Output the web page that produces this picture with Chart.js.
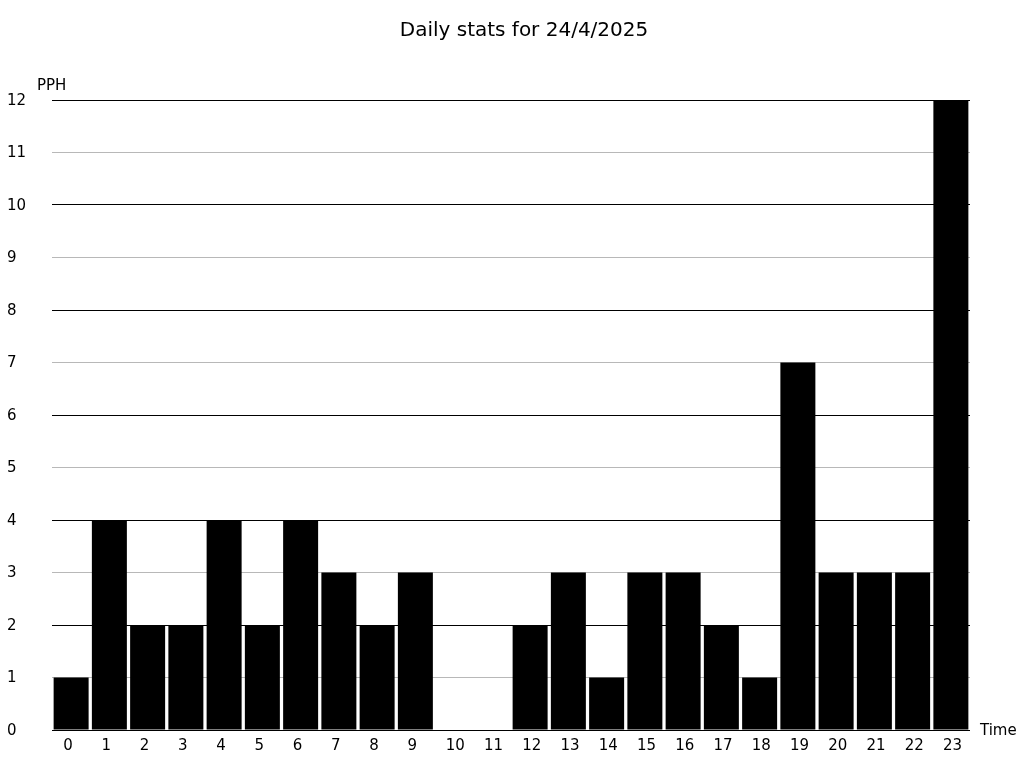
<!DOCTYPE html>
<html>
<head>
<meta charset="utf-8">
<script src="https://cdn.jsdelivr.net/npm/chart.js@4.4.1/dist/chart.umd.min.js"></script>
<style>
  html, body { margin: 0; padding: 0; background: #ffffff; }
  canvas { display: block; }
</style>
</head>
<body>
<canvas id="c" width="1024" height="768"></canvas>
<script>
const titleText = "Daily stats for 24/4/2025";
const yAxisLabel = "PPH";
const xAxisLabel = "Time";
const hours = ["0","1","2","3","4","5","6","7","8","9","10","11","12","13","14","15","16","17","18","19","20","21","22","23"];
const pphValues = [1,4,2,2,4,2,4,3,2,3,0,0,2,3,1,3,3,2,1,7,3,3,3,12];
const yMin = 0;
const yMax = 12;

const FONT = "'DejaVu Sans', sans-serif";

const labelsPlugin = {
  id: 'labels',
  afterDraw(chart) {
    const ctx = chart.ctx;
    const area = chart.chartArea;
    ctx.save();
    ctx.fillStyle = '#000';
    ctx.font = "20px " + FONT;
    ctx.textAlign = 'center';
    ctx.textBaseline = 'middle';
    ctx.fillText(titleText, 524, 31);
    ctx.font = "15px " + FONT;
    ctx.textAlign = 'left';
    ctx.fillText(yAxisLabel, 37, area.top - 14);
    ctx.fillText(xAxisLabel, area.right + 10, area.bottom + 1);
    ctx.restore();
  }
};

new Chart(document.getElementById('c'), {
  type: 'bar',
  data: {
    labels: hours,
    datasets: [{
      data: pphValues,
      backgroundColor: '#000000',
      borderWidth: 0,
      barPercentage: 0.915,
      categoryPercentage: 1.0
    }]
  },
  options: {
    responsive: false,
    animation: false,
    layout: { padding: { left: 7, right: 54, top: 100, bottom: 0 } },
    plugins: {
      legend: { display: false },
      title: { display: false },
      tooltip: { enabled: false }
    },
    scales: {
      x: {
        grid: { display: false, drawTicks: false },
        border: { display: false },
        ticks: {
          color: '#000',
          font: { family: FONT, size: 15 },
          align: 'start',
          labelOffset: -8,
          padding: 7,
          maxRotation: 0,
          autoSkip: false
        },
        afterFit(scale) { scale.height = 38; }
      },
      y: {
        min: yMin,
        max: yMax,
        grid: {
          drawTicks: false,
          lineWidth: 1,
          color: (c) => (c.tick && c.tick.value % 2 === 0) ? '#000000' : '#b8b8b8'
        },
        border: { display: false },
        ticks: {
          stepSize: 1,
          color: '#000',
          font: { family: FONT, size: 15 },
          crossAlign: 'far',
          labelOffset: 1,
          padding: 0
        },
        afterFit(scale) { scale.width = 45; }
      }
    }
  },
  plugins: [labelsPlugin]
});
</script>
</body>
</html>
